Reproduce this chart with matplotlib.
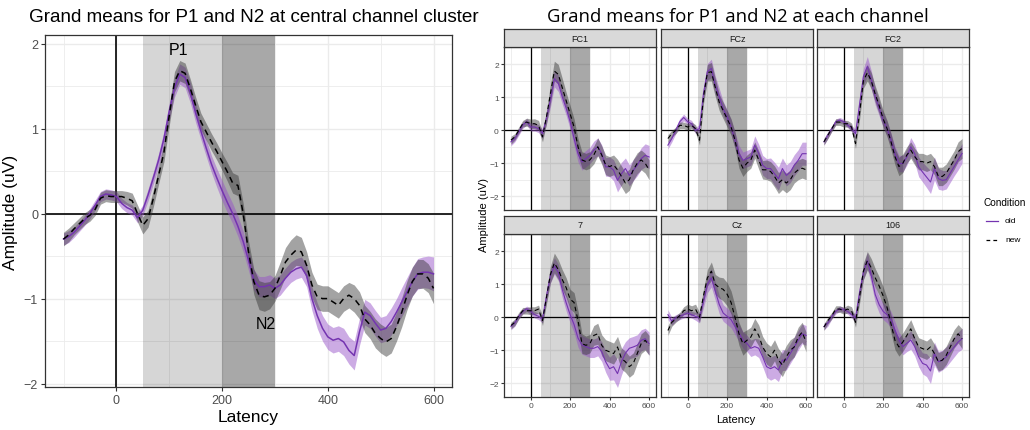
import matplotlib
matplotlib.use("Agg")
import matplotlib.pyplot as plt
from matplotlib.lines import Line2D
import numpy as np

# ---------------- data ----------------
# central cluster (10 ms steps)
time_10 = list(range(-100, 601, 10))
cluster_old = [-0.30, -0.27, -0.22, -0.15, -0.08, 0.00, 0.10, 0.20, 0.23, 0.22,
               0.20, 0.12, 0.07, 0.04, -0.05, 0.04, 0.22, 0.42, 0.63, 0.88,
               1.20, 1.48, 1.64, 1.60, 1.42, 1.18, 0.97, 0.77, 0.58, 0.42,
               0.27, 0.13, 0.00, -0.15, -0.33, -0.55, -0.78, -0.86, -0.86, -0.84,
               -0.88, -0.84, -0.76, -0.69, -0.65, -0.63, -0.73, -1.00, -1.20, -1.35,
               -1.45, -1.49, -1.47, -1.51, -1.61, -1.67, -1.39, -1.16, -1.20, -1.29,
               -1.37, -1.35, -1.27, -1.16, -1.04, -0.92, -0.80, -0.71, -0.69, -0.69,
               -0.71]
cluster_new = [-0.30, -0.25, -0.18, -0.12, -0.06, -0.02, 0.05, 0.18, 0.21, 0.20,
               0.20, 0.20, 0.18, 0.15, 0.00, -0.14, -0.06, 0.18, 0.45, 0.72,
               1.15, 1.55, 1.68, 1.65, 1.47, 1.27, 1.08, 0.96, 0.84, 0.73,
               0.61, 0.49, 0.36, 0.33, 0.00, -0.45, -0.80, -0.96, -0.98, -0.96,
               -0.88, -0.73, -0.57, -0.49, -0.43, -0.45, -0.61, -0.84, -0.98, -1.00,
               -1.00, -1.04, -1.08, -1.00, -0.96, -1.00, -1.08, -1.24, -1.31, -1.41,
               -1.47, -1.51, -1.47, -1.33, -1.16, -0.96, -0.80, -0.71, -0.71, -0.76,
               -0.88]
cluster_old_se = [0.07, 0.07, 0.06, 0.06, 0.06, 0.06, 0.06, 0.06, 0.06, 0.06,
                  0.06, 0.06, 0.06, 0.06, 0.06, 0.06, 0.07, 0.07, 0.08, 0.09,
                  0.10, 0.11, 0.12, 0.12, 0.12, 0.11, 0.10, 0.10, 0.10, 0.11,
                  0.12, 0.12, 0.12, 0.12, 0.12, 0.12, 0.12, 0.12, 0.12, 0.12,
                  0.12, 0.12, 0.12, 0.12, 0.12, 0.12, 0.13, 0.14, 0.15, 0.15,
                  0.15, 0.15, 0.15, 0.16, 0.16, 0.17, 0.16, 0.15, 0.15, 0.15,
                  0.15, 0.15, 0.16, 0.16, 0.17, 0.17, 0.17, 0.18, 0.18, 0.19,
                  0.20]
cluster_new_se = [0.08, 0.08, 0.07, 0.07, 0.07, 0.07, 0.07, 0.07, 0.07, 0.07,
                  0.07, 0.07, 0.08, 0.09, 0.10, 0.10, 0.10, 0.10, 0.10, 0.11,
                  0.12, 0.12, 0.12, 0.12, 0.11, 0.10, 0.10, 0.10, 0.10, 0.10,
                  0.10, 0.11, 0.12, 0.12, 0.12, 0.13, 0.15, 0.17, 0.17, 0.16,
                  0.15, 0.16, 0.17, 0.18, 0.18, 0.17, 0.16, 0.15, 0.15, 0.15,
                  0.15, 0.15, 0.15, 0.15, 0.15, 0.16, 0.16, 0.16, 0.16, 0.17,
                  0.17, 0.17, 0.17, 0.17, 0.17, 0.17, 0.17, 0.17, 0.17, 0.17,
                  0.18]

# per channel (20 ms steps)
time_20 = list(range(-100, 601, 20))
channels = ["FC1", "FCz", "FC2", "7", "Cz", "106"]

fc1_old = [-0.35, -0.25, -0.05, 0.16, 0.26, 0.10, 0.10, 0.05, -0.10, 0.36, 0.92, 1.57,
           1.43, 1.02, 0.67, 0.26, -0.25, -0.71, -0.96, -0.86, -0.76, -0.60, -0.50, -0.71,
           -1.11, -1.11, -1.21, -1.52, -1.32, -1.16, -1.37, -1.21, -1.06, -0.86, -0.76, -0.81]
fc1_new = [-0.30, -0.20, 0.00, 0.20, 0.25, 0.20, 0.20, 0.15, -0.20, 0.40, 1.10, 1.80,
           1.70, 1.30, 0.90, 0.50, 0.10, -0.50, -0.90, -0.95, -0.90, -0.75, -0.50, -0.75,
           -1.05, -1.10, -1.05, -1.20, -1.40, -1.60, -1.50, -1.20, -1.00, -0.90, -1.00, -1.20]
fcz_old = [-0.45, -0.25, 0.00, 0.26, 0.39, 0.26, 0.20, 0.00, 0.05, 1.12, 1.78, 1.88,
           1.37, 1.02, 0.66, 0.41, 0.10, -0.30, -0.71, -0.91, -0.86, -0.81, -0.45, -0.70,
           -1.06, -1.16, -1.16, -1.32, -1.47, -1.16, -1.37, -1.27, -1.06, -0.91, -0.71, -0.71]
fcz_new = [-0.25, -0.10, 0.00, 0.15, 0.15, 0.10, 0.15, 0.05, -0.30, 1.00, 1.75, 1.78,
           1.30, 0.85, 0.60, 0.35, 0.10, -0.30, -0.90, -1.15, -1.00, -0.90, -0.60, -0.90,
           -1.20, -1.20, -1.25, -1.40, -1.60, -1.50, -1.60, -1.50, -1.30, -1.20, -1.15, -1.20]
fc2_old = [-0.35, -0.15, 0.05, 0.26, 0.31, 0.26, 0.16, 0.06, -0.10, 0.77, 1.63, 1.94,
           1.53, 1.02, 0.66, 0.31, 0.05, -0.30, -0.71, -1.01, -1.01, -0.81, -0.50, -0.71,
           -1.11, -1.27, -1.42, -1.57, -1.16, -1.47, -1.52, -1.50, -1.30, -1.10, -0.90, -0.70]
fc2_new = [-0.35, -0.15, 0.05, 0.25, 0.25, 0.20, 0.20, 0.10, -0.40, 0.50, 1.50, 1.75,
           1.50, 1.10, 0.75, 0.35, 0.05, -0.35, -0.80, -1.10, -1.00, -0.75, -0.60, -0.80,
           -0.95, -0.95, -1.00, -0.95, -1.10, -1.40, -1.40, -1.30, -1.10, -0.90, -0.65, -0.55]
ch7_old = [-0.28, -0.17, 0.03, 0.18, 0.26, 0.18, 0.08, 0.03, -0.05, 0.64, 1.26, 1.56,
           1.36, 0.85, 0.44, 0.08, -0.22, -0.63, -0.84, -0.89, -0.94, -0.94, -0.89, -1.04,
           -1.35, -1.56, -1.50, -1.71, -1.35, -1.09, -0.94, -0.90, -0.85, -0.70, -0.65, -0.80]
ch7_new = [-0.25, -0.15, 0.05, 0.20, 0.20, 0.20, 0.20, 0.25, -0.10, 0.60, 1.30, 1.65,
           1.45, 1.15, 0.90, 0.55, 0.45, -0.10, -0.80, -0.85, -0.80, -0.55, -0.50, -0.85,
           -1.00, -1.05, -1.10, -0.90, -1.25, -1.35, -1.50, -1.40, -1.10, -0.80, -0.70, -0.85]
cz_old = [0.08, -0.12, -0.02, 0.03, 0.08, 0.13, 0.08, 0.03, -0.02, 0.49, 1.00, 1.20,
          0.80, 0.39, 0.13, 0.03, -0.07, -0.28, -0.48, -0.69, -0.79, -0.94, -0.89, -0.94,
          -1.20, -1.50, -1.56, -1.50, -1.60, -1.30, -1.30, -1.10, -0.90, -0.70, -0.50, -0.55]
cz_new = [-0.40, -0.15, -0.05, 0.05, 0.20, 0.25, 0.20, 0.25, 0.00, 0.65, 1.20, 1.40,
          1.00, 0.90, 0.85, 0.70, 0.45, 0.00, -0.50, -0.80, -0.70, -0.60, -0.35, -0.55,
          -0.90, -1.10, -1.20, -1.00, -1.30, -1.45, -1.20, -1.00, -0.90, -0.60, -0.45, -0.75]
ch106_old = [-0.28, -0.17, 0.03, 0.18, 0.26, 0.23, 0.18, 0.08, -0.02, 0.74, 1.36, 1.72,
             1.26, 0.69, 0.38, 0.18, 0.08, -0.07, -0.38, -0.69, -0.89, -0.79, -0.69, -0.89,
             -1.20, -1.40, -1.45, -1.63, -1.10, -1.35, -1.30, -1.20, -1.05, -0.90, -0.75, -0.65]
ch106_new = [-0.30, -0.10, 0.05, 0.25, 0.25, 0.20, 0.25, 0.20, -0.15, 0.60, 1.40, 1.72,
             1.50, 1.20, 0.95, 0.65, 0.30, -0.20, -0.70, -0.90, -0.75, -0.55, -0.35, -0.65,
             -0.90, -0.95, -1.00, -0.90, -1.10, -1.35, -1.30, -1.15, -0.90, -0.65, -0.50, -0.65]

fc1_old_se = [0.12, 0.10, 0.10, 0.10, 0.10, 0.12, 0.12, 0.12, 0.14, 0.18, 0.22, 0.25,
              0.25, 0.22, 0.22, 0.22, 0.22, 0.25, 0.25, 0.25, 0.25, 0.27, 0.27, 0.27,
              0.28, 0.30, 0.32, 0.35, 0.35, 0.32, 0.32, 0.32, 0.32, 0.33, 0.35, 0.35]
fc1_new_se = [0.12, 0.10, 0.10, 0.10, 0.12, 0.14, 0.15, 0.15, 0.15, 0.20, 0.28, 0.30,
              0.30, 0.28, 0.25, 0.25, 0.25, 0.25, 0.25, 0.25, 0.25, 0.27, 0.27, 0.28,
              0.30, 0.30, 0.30, 0.32, 0.32, 0.32, 0.32, 0.32, 0.32, 0.30, 0.30, 0.30]
fcz_old_se = [0.12, 0.10, 0.10, 0.10, 0.10, 0.10, 0.10, 0.10, 0.12, 0.18, 0.25, 0.28,
              0.28, 0.25, 0.22, 0.22, 0.22, 0.25, 0.25, 0.25, 0.25, 0.25, 0.28, 0.28,
              0.30, 0.30, 0.32, 0.35, 0.35, 0.32, 0.32, 0.32, 0.32, 0.32, 0.35, 0.35]
fcz_new_se = [0.12, 0.10, 0.10, 0.10, 0.10, 0.10, 0.10, 0.12, 0.15, 0.20, 0.25, 0.28,
              0.28, 0.25, 0.25, 0.25, 0.25, 0.25, 0.25, 0.25, 0.25, 0.25, 0.25, 0.28,
              0.28, 0.30, 0.30, 0.32, 0.32, 0.30, 0.30, 0.30, 0.30, 0.30, 0.30, 0.30]
fc2_old_se = [0.10, 0.10, 0.08, 0.08, 0.08, 0.08, 0.08, 0.10, 0.12, 0.18, 0.25, 0.30,
              0.28, 0.25, 0.22, 0.22, 0.22, 0.22, 0.22, 0.25, 0.25, 0.25, 0.28, 0.28,
              0.30, 0.30, 0.32, 0.35, 0.35, 0.32, 0.30, 0.28, 0.28, 0.28, 0.30, 0.30]
fc2_new_se = [0.10, 0.10, 0.08, 0.10, 0.10, 0.10, 0.10, 0.12, 0.15, 0.20, 0.22, 0.25,
              0.25, 0.25, 0.25, 0.25, 0.25, 0.25, 0.25, 0.28, 0.28, 0.25, 0.25, 0.25,
              0.25, 0.25, 0.25, 0.25, 0.25, 0.28, 0.28, 0.28, 0.28, 0.28, 0.30, 0.30]
ch7_old_se = [0.10, 0.10, 0.08, 0.08, 0.08, 0.10, 0.10, 0.10, 0.12, 0.18, 0.22, 0.25,
              0.25, 0.25, 0.25, 0.25, 0.25, 0.28, 0.28, 0.28, 0.28, 0.28, 0.28, 0.30,
              0.32, 0.35, 0.40, 0.42, 0.40, 0.35, 0.32, 0.32, 0.32, 0.32, 0.32, 0.35]
ch7_new_se = [0.10, 0.10, 0.10, 0.10, 0.10, 0.12, 0.12, 0.12, 0.15, 0.20, 0.25, 0.30,
              0.30, 0.30, 0.30, 0.30, 0.30, 0.30, 0.30, 0.28, 0.28, 0.30, 0.32, 0.32,
              0.32, 0.32, 0.32, 0.32, 0.32, 0.32, 0.32, 0.32, 0.30, 0.30, 0.30, 0.30]
cz_old_se = [0.15, 0.12, 0.10, 0.10, 0.10, 0.10, 0.10, 0.12, 0.15, 0.20, 0.25, 0.28,
             0.28, 0.28, 0.25, 0.25, 0.25, 0.25, 0.25, 0.25, 0.25, 0.25, 0.25, 0.28,
             0.30, 0.32, 0.35, 0.35, 0.35, 0.32, 0.30, 0.30, 0.30, 0.30, 0.30, 0.30]
cz_new_se = [0.15, 0.12, 0.10, 0.10, 0.12, 0.15, 0.15, 0.15, 0.15, 0.20, 0.25, 0.28,
             0.30, 0.32, 0.35, 0.35, 0.35, 0.35, 0.35, 0.35, 0.32, 0.30, 0.32, 0.32,
             0.32, 0.32, 0.32, 0.32, 0.35, 0.35, 0.35, 0.32, 0.30, 0.30, 0.30, 0.30]
ch106_old_se = [0.10, 0.10, 0.08, 0.08, 0.08, 0.08, 0.08, 0.10, 0.12, 0.18, 0.22, 0.25,
                0.25, 0.25, 0.25, 0.25, 0.25, 0.25, 0.25, 0.25, 0.25, 0.25, 0.28, 0.28,
                0.30, 0.32, 0.35, 0.38, 0.35, 0.32, 0.30, 0.30, 0.30, 0.30, 0.30, 0.32]
ch106_new_se = [0.10, 0.10, 0.10, 0.10, 0.10, 0.10, 0.12, 0.12, 0.15, 0.20, 0.25, 0.28,
                0.28, 0.28, 0.28, 0.28, 0.28, 0.28, 0.28, 0.28, 0.28, 0.28, 0.28, 0.28,
                0.28, 0.28, 0.28, 0.28, 0.28, 0.28, 0.28, 0.28, 0.28, 0.28, 0.28, 0.30]

channel_old = [fc1_old, fcz_old, fc2_old, ch7_old, cz_old, ch106_old]
channel_new = [fc1_new, fcz_new, fc2_new, ch7_new, cz_new, ch106_new]
channel_old_se = [fc1_old_se, fcz_old_se, fc2_old_se, ch7_old_se, cz_old_se, ch106_old_se]
channel_new_se = [fc1_new_se, fcz_new_se, fc2_new_se, ch7_new_se, cz_new_se, ch106_new_se]

p1_window = (50, 200)
n2_window = (200, 300)
conditions = ["old", "new"]

# ---------------- style ----------------
FONT = ["Liberation Sans", "DejaVu Sans"]
plt.rcParams['font.family'] = FONT
PURPLE_LINE = "#7434B0"
PURPLE_FILL = "#9650C8"
GREY_FILL = "#333333"
BORDER = "#333333"
TICKLAB = "#4D4D4D"
GRID = "#EBEBEB"

W, H = 1030, 431
fig = plt.figure(figsize=(W / 100, H / 100), dpi=100)


def rect(px_left, px_top, px_w, px_h):
    return [px_left / W, 1 - (px_top + px_h) / H, px_w / W, px_h / H]


def draw_panel(ax, t, old, new, old_se, new_se, lw, hv_lw, ylim):
    ax.set_xlim(-135, 635)
    ax.set_ylim(*ylim)
    ax.set_facecolor("white")
    # grid
    for gx in [-100, 100, 300, 500]:
        ax.axvline(gx, color=GRID, lw=0.6, zorder=0)
    for gx in [0, 200, 400, 600]:
        ax.axvline(gx, color=GRID, lw=1.0, zorder=0)
    for gy in [-1.5, -0.5, 0.5, 1.5]:
        ax.axhline(gy, color=GRID, lw=0.6, zorder=0)
    for gy in [-2, -1, 0, 1, 2]:
        ax.axhline(gy, color=GRID, lw=1.0, zorder=0)
    # windows
    ax.axvspan(*p1_window, color="black", alpha=0.16, lw=0, zorder=1)
    ax.axvspan(*n2_window, color="black", alpha=0.34, lw=0, zorder=1)
    ax.axvline(0, color="black", lw=hv_lw, zorder=2)
    ax.axhline(0, color="black", lw=hv_lw, zorder=2)
    t = np.array(t)
    o, n = np.array(old), np.array(new)
    os_, ns_ = np.array(old_se), np.array(new_se)
    ax.fill_between(t, o - os_, o + os_, color=PURPLE_FILL, alpha=0.48, lw=0, zorder=3)
    ax.fill_between(t, n - ns_, n + ns_, color=GREY_FILL, alpha=0.45, lw=0, zorder=3)
    ax.plot(t, o, color=PURPLE_LINE, lw=lw, zorder=4)
    ax.plot(t, n, color="black", lw=lw, ls=(0, (4, 3)), zorder=4)
    for s in ax.spines.values():
        s.set_color(BORDER)
        s.set_linewidth(0.9)
        s.set_zorder(5)
    ax.set_xticks([0, 200, 400, 600])
    ax.set_yticks([-2, -1, 0, 1, 2])
    ax.tick_params(direction="out", length=3, width=0.8, color=BORDER,
                   labelcolor=TICKLAB, pad=2)
    ax.set_yticklabels(["\u22122", "\u22121", "0", "1", "2"])


# ---------------- left chart ----------------
axL = fig.add_axes(rect(45, 36, 407, 352))
draw_panel(axL, time_10, cluster_old, cluster_new, cluster_old_se, cluster_new_se,
           lw=1.1, hv_lw=1.2, ylim=(-2.04, 2.1))
axL.tick_params(labelsize=9)
axL.set_xlabel("Latency", fontsize=12.5, labelpad=2, color="black")
axL.set_ylabel("Amplitude (uV)", fontsize=12.5, labelpad=4, color="black")
axL.text(118, 1.93, "P1", fontsize=11.5, ha="center", va="center", zorder=6)
axL.text(282, -1.29, "N2", fontsize=11.5, ha="center", va="center", zorder=6)
fig.text(254 / W, 1 - 17 / H, "Grand means for P1 and N2 at central channel cluster",
         ha="center", va="center", fontsize=13.6,
         family=["Liberation Sans Narrow", "Liberation Sans", "DejaVu Sans"])

# ---------------- right chart (facets) ----------------
col_left = [504, 661, 817]
row_top = [48, 235]
pw, ph, sh = 152, 163, 18
for i, ch in enumerate(channels):
    r, c = divmod(i, 3)
    ax = fig.add_axes(rect(col_left[c], row_top[r], pw, ph))
    draw_panel(ax, time_20, channel_old[i], channel_new[i], channel_old_se[i],
               channel_new_se[i], lw=0.8, hv_lw=0.9, ylim=(-2.42, 2.53))
    ax.tick_params(labelsize=6, length=2.2, pad=1.5)
    if c != 0:
        ax.tick_params(axis="y", left=False, labelleft=False)
    if r != 1:
        ax.tick_params(axis="x", bottom=False, labelbottom=False)
    sax = fig.add_axes(rect(col_left[c], row_top[r] - sh, pw, sh))
    sax.set_facecolor("#D9D9D9")
    sax.set_xticks([])
    sax.set_yticks([])
    for s in sax.spines.values():
        s.set_color(BORDER)
        s.set_linewidth(0.9)
    sax.text(0.5, 0.5, ch, ha="center", va="center", fontsize=6.5, color="#1A1A1A",
             transform=sax.transAxes)

fig.text(738 / W, 1 - 17 / H, "Grand means for P1 and N2 at each channel",
         ha="center", va="center", fontsize=13.3, family=["Open Sans", "DejaVu Sans"])
fig.text(736 / W, 1 - 420 / H, "Latency", ha="center", va="center", fontsize=8)
fig.text(484 / W, 1 - 215 / H, "Amplitude (uV)", ha="center", va="center",
         fontsize=8, rotation=90)

# legend
fig.text(984 / W, 1 - 203 / H, "Condition", ha="left", va="center", fontsize=7.2)
fig.add_artist(Line2D([986 / W, 998 / W], [1 - 222 / H] * 2, color=PURPLE_LINE, lw=0.9))
fig.add_artist(Line2D([986 / W, 998 / W], [1 - 241 / H] * 2, color="black", lw=0.9,
                      ls=(0, (3, 2.5))))
fig.text(1005 / W, 1 - 222 / H, conditions[0], ha="left", va="center", fontsize=6)
fig.text(1005 / W, 1 - 241 / H, conditions[1], ha="left", va="center", fontsize=6)

fig.savefig("out.png", dpi=100)
